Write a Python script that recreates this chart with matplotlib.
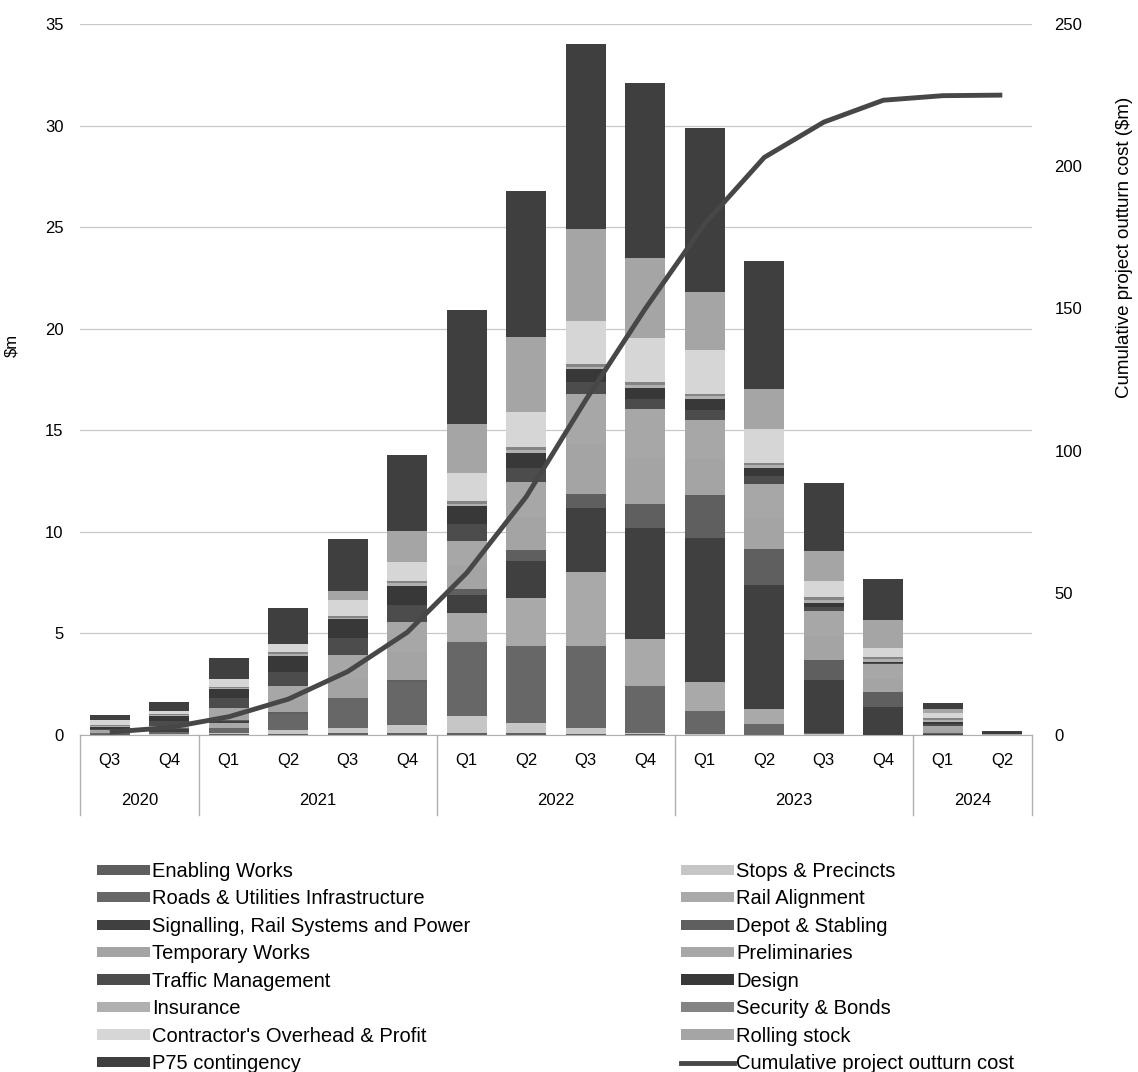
import numpy as np
import matplotlib
matplotlib.use("Agg")
import matplotlib.pyplot as plt
from matplotlib.patches import Patch
from matplotlib.lines import Line2D
import matplotlib.transforms as mtransforms

plt.rcParams['font.family'] = ['Liberation Sans', 'DejaVu Sans']

quarters = ['Q3', 'Q4', 'Q1', 'Q2', 'Q3', 'Q4', 'Q1', 'Q2', 'Q3', 'Q4',
            'Q1', 'Q2', 'Q3', 'Q4', 'Q1', 'Q2']
years = ['2020', '2021', '2022', '2023', '2024']
year_quarters = [2, 4, 4, 4, 2]

# $m per quarter, stacked bottom -> top
enabling = [0.05, 0.02, 0.03, 0.05, 0.10, 0.10, 0.08, 0.08, 0.03, 0.03, 0.02, 0.01, 0.01, 0.00, 0.00, 0.00]
stops = [0.02, 0.02, 0.05, 0.20, 0.23, 0.39, 0.86, 0.49, 0.30, 0.07, 0.03, 0.01, 0.02, 0.01, 0.00, 0.00]
roads = [0.05, 0.10, 0.25, 0.76, 1.47, 2.11, 3.66, 3.83, 4.07, 2.30, 1.12, 0.53, 0.05, 0.01, 0.02, 0.00]
rail = [0.03, 0.03, 0.26, 0.00, 0.00, 0.00, 1.40, 2.35, 3.60, 2.30, 1.46, 0.73, 0.00, 0.00, 0.00, 0.00]
signalling = [0.00, 0.10, 0.10, 0.00, 0.00, 0.00, 0.90, 1.80, 3.15, 5.50, 7.09, 6.11, 2.65, 1.34, 0.03, 0.00]
depot = [0.00, 0.05, 0.05, 0.13, 0.00, 0.10, 0.30, 0.55, 0.70, 1.15, 2.08, 1.76, 0.98, 0.76, 0.05, 0.00]
temporary = [0.03, 0.05, 0.25, 0.60, 1.02, 1.36, 1.15, 1.65, 2.45, 2.30, 1.80, 1.55, 1.15, 0.65, 0.16, 0.00]
prelim = [0.07, 0.08, 0.32, 0.68, 1.10, 1.50, 1.20, 1.70, 2.50, 2.40, 1.89, 1.65, 1.23, 0.74, 0.20, 0.04]
traffic = [0.06, 0.23, 0.49, 0.70, 0.87, 0.86, 0.85, 0.70, 0.60, 0.50, 0.50, 0.40, 0.20, 0.04, 0.08, 0.00]
design = [0.10, 0.25, 0.45, 0.75, 0.90, 0.90, 0.85, 0.75, 0.60, 0.55, 0.55, 0.41, 0.21, 0.05, 0.08, 0.04]
insurance = [0.05, 0.05, 0.07, 0.10, 0.09, 0.14, 0.13, 0.15, 0.12, 0.15, 0.13, 0.12, 0.14, 0.12, 0.10, 0.00]
security = [0.05, 0.05, 0.06, 0.11, 0.10, 0.14, 0.12, 0.15, 0.13, 0.15, 0.13, 0.12, 0.14, 0.12, 0.10, 0.00]
contractor = [0.23, 0.17, 0.36, 0.42, 0.74, 0.90, 1.40, 1.70, 2.15, 2.15, 2.13, 1.68, 0.82, 0.46, 0.25, 0.03]
rolling = [0.00, 0.00, 0.00, 0.00, 0.46, 1.55, 2.40, 3.70, 4.50, 3.95, 2.87, 1.96, 1.47, 1.37, 0.19, 0.00]
p75 = [0.23, 0.43, 1.04, 1.74, 2.56, 3.75, 5.60, 7.20, 9.10, 8.60, 8.06, 6.30, 3.35, 2.01, 0.33, 0.10]

cumulative = [1.0, 2.6, 6.4, 12.6, 22.3, 36.1, 57.0, 83.8, 117.8, 149.9, 179.8, 203.1, 215.5, 223.2, 224.8, 225.0]

series = [
    ('Enabling Works', enabling, '#5e5e5e'),
    ('Stops & Precincts', stops, '#c6c6c6'),
    ('Roads & Utilities Infrastructure', roads, '#676767'),
    ('Rail Alignment', rail, '#a9a9a9'),
    ('Signalling, Rail Systems and Power', signalling, '#404040'),
    ('Depot & Stabling', depot, '#5f5f5f'),
    ('Temporary Works', temporary, '#a4a4a4'),
    ('Preliminaries', prelim, '#a7a7a7'),
    ('Traffic Management', traffic, '#4c4c4c'),
    ('Design', design, '#383838'),
    ('Insurance', insurance, '#b0b0b0'),
    ('Security & Bonds', security, '#848484'),
    ("Contractor's Overhead & Profit", contractor, '#d6d6d6'),
    ('Rolling stock', rolling, '#a5a5a5'),
    ('P75 contingency', p75, '#3f3f3f'),
]

fig = plt.figure(figsize=(11.38, 10.72), dpi=100)
ax = fig.add_axes([0.0703, 0.3144, 0.8366, 0.6632])
x = np.arange(len(quarters))

bottom = np.zeros(len(quarters))
handles = {}
for name, vals, col in series:
    ax.bar(x, vals, 0.67, bottom=bottom, color=col, linewidth=0, zorder=2)
    bottom += np.array(vals)
    handles[name] = Patch(facecolor=col, edgecolor='none')

ax.set_xlim(-0.5, len(quarters) - 0.5)
ax.set_ylim(0, 35)
ax.set_yticks(np.arange(0, 36, 5))
ax.grid(axis='y', color='#c8c8c8', linewidth=0.9, zorder=0)
ax.set_axisbelow(True)
for s in ['left', 'right', 'top']:
    ax.spines[s].set_visible(False)
ax.spines['bottom'].set_color('#b0b0b0')
ax.tick_params(axis='y', length=0, labelsize=12, pad=12)
ax.set_xticks([])
ax.set_ylabel('$m', fontsize=12)
ax.yaxis.set_label_coords(-0.064, 0.548)

ax2 = ax.twinx()
ax2.plot(x, cumulative, color='#474747', linewidth=3.5, zorder=5, solid_capstyle='butt')
ax2.set_ylim(0, 250)
ax2.set_yticks(np.arange(0, 251, 50))
for s in ax2.spines.values():
    s.set_visible(False)
ax2.tick_params(axis='y', length=0, labelsize=12, pad=16)
ax2.set_ylabel('Cumulative project outturn cost ($m)', fontsize=13.5)
ax2.yaxis.set_label_coords(1.088, 0.686)

# two-level category axis
trans = mtransforms.blended_transform_factory(ax.transData, ax.transAxes)
for i, q in enumerate(quarters):
    ax.text(i, -0.036, q, transform=trans, ha='center', va='center', fontsize=12)
start = 0
edges = [-0.5]
for yr, n in zip(years, year_quarters):
    ax.text(start + (n - 1) / 2, -0.0925, yr, transform=trans, ha='center', va='center', fontsize=12)
    start += n
    edges.append(start - 0.5)
for e in edges:
    ax.plot([e, e], [0, -0.113], transform=trans, color='#b0b0b0', linewidth=1, clip_on=False)

line_handle = Line2D([0], [0], color='#474747', linewidth=3.5)
left_names = ['Enabling Works', 'Roads & Utilities Infrastructure', 'Signalling, Rail Systems and Power',
              'Temporary Works', 'Traffic Management', 'Insurance', "Contractor's Overhead & Profit",
              'P75 contingency']
right_names = ['Stops & Precincts', 'Rail Alignment', 'Depot & Stabling', 'Preliminaries', 'Design',
               'Security & Bonds', 'Rolling stock']

leg_kw = dict(frameon=False, fontsize=14.5, handlelength=2.65, handleheight=0.4,
              handletextpad=0.1, labelspacing=0.42, borderpad=0, borderaxespad=0, loc='upper left')
leg1 = fig.legend([handles[n] for n in left_names], left_names,
                  bbox_to_anchor=(0.085, 0.196), **leg_kw)
leg2 = fig.legend([handles[n] for n in right_names] + [line_handle],
                  right_names + ['Cumulative project outturn cost'],
                  bbox_to_anchor=(0.598, 0.196), **leg_kw)

fig.savefig('out.png', dpi=100)
